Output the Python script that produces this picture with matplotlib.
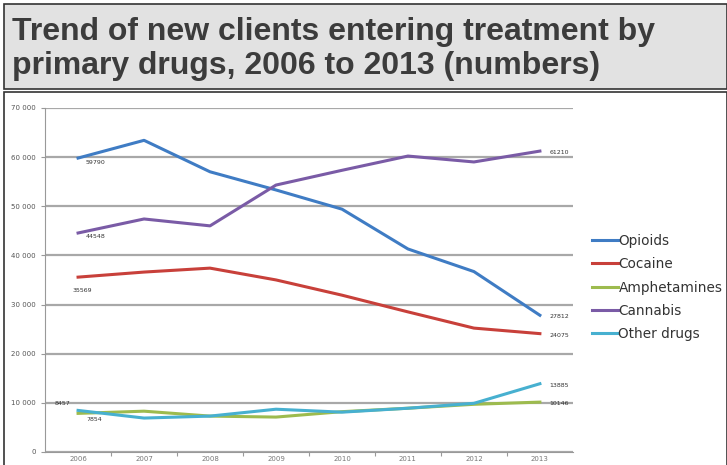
import matplotlib.pyplot as plt
from matplotlib.patches import Rectangle

years = ['2006', '2007', '2008', '2009', '2010', '2011', '2012', '2013']
opioids = [59790, 63400, 57000, 53300, 49400, 41300, 36700, 27812]
cocaine = [35569, 36600, 37400, 35000, 31900, 28500, 25200, 24075]
amphetamines = [7854, 8300, 7300, 7100, 8200, 8900, 9700, 10146]
cannabis = [44548, 47400, 46000, 54300, 57300, 60200, 59000, 61210]
other_drugs = [8457, 6900, 7300, 8700, 8100, 8900, 9900, 13885]

series = [('Opioids', opioids, '#3f7cc4'),
          ('Cocaine', cocaine, '#c8403a'),
          ('Amphetamines', amphetamines, '#9dbb4e'),
          ('Cannabis', cannabis, '#7a5ba6'),
          ('Other drugs', other_drugs, '#47b0d0')]

fig = plt.figure(figsize=(7.27, 4.65), dpi=100)
fig.patch.set_facecolor('white')

# title band and chart frame (behind the axes)
fig.patches.append(Rectangle((0.006, 0.808), 0.994, 0.183, transform=fig.transFigure,
                             facecolor='#e2e2e2', edgecolor='#333333', linewidth=1.2,
                             zorder=-5))
fig.patches.append(Rectangle((0.006, -0.01), 0.994, 0.812, transform=fig.transFigure,
                             facecolor='white', edgecolor='#333333', linewidth=1.2,
                             zorder=-5))
fig.text(0.016, 0.932, 'Trend of new clients entering treatment by', fontsize=23,
         fontweight='bold', color='#3c3c3c', va='center', family='Liberation Sans')
fig.text(0.016, 0.858, 'primary drugs, 2006 to 2013 (numbers)', fontsize=23,
         fontweight='bold', color='#3c3c3c', va='center', family='Liberation Sans')

ax = fig.add_axes([0.062, 0.028, 0.726, 0.740])
ax.set_zorder(2)
ax.patch.set_alpha(0)
x = list(range(len(years)))
for name, vals, col in series:
    ax.plot(x, vals, color=col, linewidth=2.2, label=name, zorder=3)

ax.set_xlim(-0.5, 7.5)
ax.set_ylim(0, 70000)
ax.set_yticks(range(0, 70001, 10000))
ax.set_yticklabels(['0'] + ['%d 000' % (v // 1000) for v in range(10000, 70001, 10000)],
                   fontsize=5, color='#555555')
ax.yaxis.grid(True, color='#a8a8a8', linewidth=1.6)
ax.set_axisbelow(True)
ax.set_xticks([i + 0.5 for i in range(7)])
ax.set_xticklabels([])
ax.set_xticks(x, minor=True)
ax.set_xticklabels(years, minor=True, fontsize=5, color='#777777')
ax.tick_params(axis='x', which='minor', length=0, pad=3)
ax.tick_params(axis='x', which='major', length=3, color='#999999')
ax.tick_params(axis='y', length=3, color='#999999')
for s in ['top', 'right']:
    ax.spines[s].set_visible(False)
ax.spines['left'].set_color('#999999')
ax.spines['bottom'].set_color('#999999')

# data labels
lab = dict(fontsize=4.5, color='#333333', zorder=4)
ax.text(0.12, opioids[0] - 800, str(opioids[0]), va='center', **lab)
ax.text(0.12, cannabis[0] - 800, str(cannabis[0]), va='center', **lab)
ax.text(-0.08, cocaine[0] - 2800, str(cocaine[0]), va='center', **lab)
ax.text(-0.35, other_drugs[0] + 1400, str(other_drugs[0]), va='center', **lab)
ax.text(0.12, amphetamines[0] - 1300, str(amphetamines[0]), va='center', **lab)
for vals in [cannabis, opioids, cocaine, other_drugs, amphetamines]:
    ax.text(7.15, vals[-1] - 300, str(vals[-1]), va='center', **lab)

leg = ax.legend(loc='center left', bbox_to_anchor=(1.0, 0.478), frameon=False,
                handlelength=1.9, handletextpad=0.05, labelspacing=0.68,
                borderaxespad=1.0,
                prop={'family': 'DejaVu Sans', 'size': 9.8})
for t in leg.get_texts():
    t.set_color('#333333')

fig.savefig('out.png', dpi=100)
